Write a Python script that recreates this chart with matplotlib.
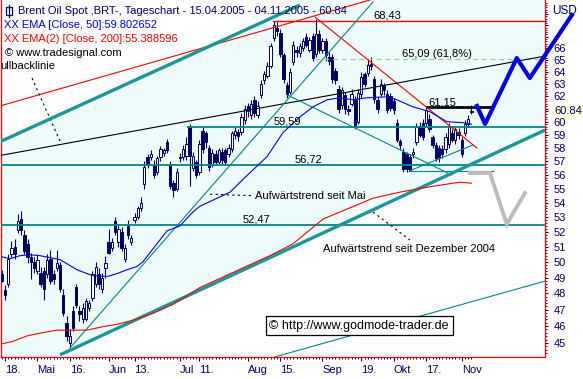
import numpy as np
import matplotlib
matplotlib.use('Agg')
import matplotlib.pyplot as plt
from matplotlib.patches import Rectangle
from matplotlib.lines import Line2D
from matplotlib.transforms import blended_transform_factory

plt.rcParams['font.family'] = ['Liberation Sans', 'DejaVu Sans']

W, H = 583, 379
navy = '#000066'
teal = '#008888'

# Brent Oil Spot, daily candles 15.04.2005 - 04.11.2005 (x = trading day number)
opens = [49.2, 48.2, 48.6, 50.5, 51.0, 52.1, 52.9, 51.8, 51.2, 50.3,
         50.0, 49.4, 49.3, 49.4, 49.2, 50.2, 49.2, 49.6, 49.8, 47.9,
         46.2, 45.0, 46.9, 48.4, 46.9, 46.4, 46.4, 47.1, 47.7, 48.6,
         49.2, 48.3, 49.6, 51.3, 50.9, 52.7, 51.3, 52.0, 50.2, 52.4,
         51.3, 52.8, 53.0, 53.6, 55.3, 57.3, 57.3, 56.7, 56.2, 57.3,
         57.6, 58.4, 56.7, 55.4, 55.0, 57.2, 57.3, 57.4, 59.7, 56.5,
         56.9, 56.2, 59.3, 59.1, 58.0, 56.8, 57.5, 56.9, 57.7, 57.8,
         57.5, 57.9, 59.0, 59.2, 59.2, 60.1, 61.2, 60.5, 61.7, 60.5,
         62.1, 63.3, 63.7, 64.5, 66.9, 67.8, 67.3, 65.4, 62.9, 62.4,
         64.8, 65.9, 65.6, 66.0, 67.0, 65.9, 67.1, 65.5, 67.2, 65.9,
         66.6, 65.3, 65.3, 64.1, 62.6, 61.3, 62.1, 61.0, 61.4, 61.7,
         60.0, 62.2, 63.8, 63.9, 64.7, 63.4, 61.7, 62.2, 62.9, 62.2,
         62.0, 61.6, 59.9, 58.5, 57.7, 57.5, 57.3, 57.5, 58.4, 59.7,
         59.9, 59.9, 60.2, 58.8, 58.2, 58.0, 57.9, 57.9, 58.3, 59.1,
         58.6, 59.2, 58.6, 59.1, 59.8, 60.75]
highs = [49.5, 48.5, 50.5, 51.4, 51.5, 53.2, 53.4, 52.1, 51.5, 50.6,
         50.3, 50.5, 49.7, 49.7, 50.5, 50.8, 49.5, 50.8, 50.0, 48.3,
         46.6, 45.8, 47.2, 48.6, 47.2, 47.4, 47.7, 47.6, 49.4, 50.0,
         49.6, 49.3, 50.4, 52.2, 51.6, 53.0, 52.5, 52.3, 51.2, 52.8,
         51.8, 53.3, 53.8, 54.4, 57.0, 57.5, 57.8, 57.1, 57.4, 58.1,
         58.0, 58.7, 57.0, 55.6, 56.5, 57.6, 58.2, 58.8, 59.8, 57.7,
         57.1, 58.6, 59.6, 59.3, 58.2, 57.9, 57.8, 58.0, 58.0, 58.0,
         58.3, 59.3, 59.6, 59.4, 60.7, 61.3, 61.5, 61.7, 62.0, 61.6,
         63.3, 64.1, 64.8, 66.5, 68.43, 68.3, 67.7, 65.6, 63.2, 64.3,
         66.6, 66.2, 66.5, 66.9, 67.3, 67.0, 67.3, 68.6, 67.6, 66.9,
         66.9, 65.7, 65.5, 64.3, 62.9, 62.8, 62.4, 61.3, 62.6, 62.0,
         62.6, 64.0, 64.0, 65.0, 65.3, 63.7, 62.0, 63.4, 63.1, 62.5,
         62.3, 61.9, 60.2, 58.7, 58.0, 57.7, 57.5, 58.0, 59.9, 60.0,
         60.2, 61.15, 60.6, 59.0, 58.4, 58.2, 58.2, 59.1, 59.9, 59.4,
         59.6, 59.5, 58.8, 60.1, 60.5, 61.3]
lows = [48.7, 47.6, 48.4, 50.3, 50.2, 51.9, 51.8, 50.5, 49.9, 48.9,
        49.3, 49.2, 48.4, 47.6, 49.0, 48.6, 48.6, 49.4, 48.1, 46.6,
        45.1, 44.7, 45.7, 47.1, 46.3, 46.2, 46.3, 46.9, 47.5, 48.4,
        48.3, 48.0, 49.0, 50.5, 50.7, 51.8, 51.0, 50.7, 50.0, 51.5,
        51.1, 52.6, 52.9, 53.4, 55.0, 56.5, 57.1, 55.8, 56.0, 57.0,
        57.4, 57.6, 55.0, 54.4, 54.8, 56.9, 57.1, 57.1, 55.2, 56.3,
        55.8, 56.0, 57.6, 58.0, 56.3, 56.6, 56.7, 56.75, 56.8, 56.72,
        57.3, 57.7, 58.7, 58.5, 59.0, 59.8, 60.4, 60.2, 60.4, 60.3,
        61.9, 63.0, 63.5, 64.3, 66.6, 67.1, 65.3, 63.1, 61.9, 62.2,
        64.6, 65.3, 65.3, 65.8, 66.1, 65.7, 64.9, 65.3, 65.6, 65.6,
        64.9, 64.6, 63.1, 63.0, 60.7, 61.0, 60.6, 60.5, 61.2, 59.45,
        59.8, 61.9, 62.8, 63.7, 64.2, 61.5, 60.7, 62.0, 62.1, 60.7,
        60.8, 60.6, 58.4, 57.8, 56.2, 56.2, 56.25, 57.2, 58.2, 58.8,
        58.6, 59.6, 59.2, 58.0, 57.0, 56.9, 57.2, 57.6, 58.0, 58.4,
        58.3, 58.7, 57.3, 58.9, 59.6, 60.6]
closes = [48.8, 47.9, 50.2, 50.9, 50.5, 52.7, 52.1, 50.7, 50.3, 50.0,
          49.6, 50.1, 48.6, 48.3, 50.1, 48.8, 48.9, 49.9, 48.3, 46.8,
          45.4, 45.4, 45.9, 47.3, 46.7, 47.1, 47.5, 47.4, 49.2, 49.7,
          48.6, 49.0, 49.9, 50.6, 51.3, 52.0, 52.2, 50.9, 50.9, 51.8,
          51.6, 53.0, 53.6, 54.0, 56.6, 56.7, 57.5, 56.0, 57.2, 57.9,
          57.8, 57.8, 55.2, 54.9, 56.2, 57.3, 57.9, 58.3, 57.4, 57.4,
          56.0, 58.3, 57.9, 58.4, 56.6, 57.6, 56.9, 57.8, 57.1, 56.9,
          58.0, 59.1, 59.3, 58.9, 60.4, 61.0, 60.8, 61.4, 60.7, 61.2,
          63.0, 63.8, 64.5, 66.2, 68.0, 67.5, 65.5, 63.4, 62.2, 64.0,
          66.3, 65.7, 66.2, 66.6, 66.3, 66.7, 65.2, 67.2, 65.9, 66.6,
          65.4, 64.9, 63.4, 63.3, 61.0, 62.5, 61.0, 60.8, 62.2, 59.6,
          62.3, 63.6, 63.0, 64.6, 64.5, 61.8, 61.0, 63.0, 62.5, 60.9,
          61.1, 60.9, 58.6, 58.2, 56.4, 56.4, 56.3, 57.7, 59.6, 59.0,
          58.8, 60.9, 59.4, 58.2, 57.2, 57.2, 57.5, 58.8, 59.6, 58.6,
          59.4, 59.0, 57.5, 59.8, 60.2, 60.84]

# indicator lines
ema50_x = [0, 2.5, 5.6, 8.7, 11.8, 14.9, 18.0, 20.1, 23.2, 26.3, 28.2, 32.5, 35.6,
           38.7, 41.7, 43.6, 46.7, 51.0, 55.0, 59.0, 61.2, 70.5, 74.5, 81.9, 86.8,
           92.1, 96.1, 100.4, 104.4, 108.4, 112.7, 118.9, 122.0, 126.9, 132.2,
           137.4, 142.4, 145]
ema50_y = [50.34, 50.21, 50.41, 50.47, 50.41, 50.28, 50.15, 49.89, 49.5, 49.25,
           49.12, 49.06, 49.25, 49.5, 49.7, 50.02, 50.86, 52.06, 52.4, 53.35, 53.76,
           54.75, 55.67, 57.34, 59.15, 60.38, 61.17, 61.73, 61.89, 61.73, 61.89,
           61.97, 61.73, 61.17, 60.78, 60.0, 59.92, 59.80]
ema200_x = [0, 3.5, 7.8, 11.8, 17.1, 26.3, 30.3, 35.6, 40.5, 46.7, 52.9, 61.2,
            76.6, 82.8, 89.9, 99.2, 106.6, 114.6, 122.9, 133.1, 141.4, 145]
ema200_y = [44.95, 45.1, 45.42, 45.58, 45.76, 45.76, 45.93, 46.11, 46.35, 46.77,
            47.32, 48.37, 49.82, 50.41, 51.19, 52.87, 53.56, 54.32, 54.75, 55.17,
            55.46, 55.39]

tick_pos = [1, 11, 21, 33, 41, 55, 61, 76, 86, 99, 111, 121, 131, 142]
tick_lab = ['18.', 'Mai', '16.', 'Jun', '13.', 'Jul', '11.', 'Aug', '15.', 'Sep',
            '19.', 'Okt', '17.', 'Nov']

x_min, x_max = -0.23, 167.7
y_min, y_max = 44.19, 70.28

# drawn analysis lines: (x0, x1), (p0, p1)
upper_channel = ([-0.5, 92.05], [58.46, 69.82])
lower_channel = ([17.98, 167.7], [44.31, 59.35])
red_upper = ([-0.5, 113.66], [61.24, 70.28])
red_down = ([96.7, 146.7], [68.74, 57.98])
black_line = ([-0.5, 167.7], [57.42, 65.34])
teal_mai = ([21.06, 114.6], [44.71, 70.1])
teal_down = ([88.3, 138.96], [62.1, 55.98])
teal_up_short = ([126.0, 145.4], [56.3, 58.2])
teal_flat_short = ([126.0, 151.6], [56.3, 56.3])
teal_bottom = ([84.4, 167.7], [44.2, 48.77])

ptr_pullback = ([9.33, 18.0], [63.5, 58.5])
ptr_mai = ([64.3, 77.2], [54.6, 54.5])
ptr_dez = ([114.6, 126.0], [53.35, 51.45])

# horizontal levels: price, start, end
teal_levels = [(59.59, 57.5, x_max), (56.72, x_min, x_max), (52.47, x_min, x_max)]
fib_level = (65.09, 96.7, x_max)
high_level = (68.43, 83.7, x_max)
resist_level = (61.15, 131.3, 150.7)

level_text = ['68,43', '65,09 (61,8%)', '61,15', '59,59', '56,72', '52,47']
level_tx = [114.6, 123.5, 131.6, 84.0, 90.5, 74.5]
level_ty = [68.43, 65.09, 61.15, 59.59, 56.72, 52.47]

# scenario arrows
blue_x = [146.7, 149.2, 159.0, 163.0, 176.0]
blue_y = [61.24, 59.82, 65.17, 63.5, 68.92]
gray_x = [144.5, 150.7, 155.9, 161.5]
gray_y = [56.13, 56.13, 52.52, 54.69]


def line_at(x, seg):
    (x0, x1), (p0, p1) = seg
    t = (x - x0) / (x1 - x0)
    return p0 * (p1 / p0) ** t


fig = plt.figure(figsize=(W / 100, H / 100), dpi=100)
ax = fig.add_axes([1 / W, 22 / H, 544 / W, 357 / H])
ax.set_yscale('log')
ax.set_xlim(x_min, x_max)
ax.set_ylim(y_min, y_max)

# channel background
fx = np.array([x_min, x_max])
ax.fill_between(fx, line_at(fx, lower_channel), line_at(fx, upper_channel),
                color='#EEFCFC', lw=0, zorder=0)

# candles
idx = np.arange(len(closes))
o = np.array(opens)
c = np.array(closes)
hi = np.array(highs)
lo = np.array(lows)
up = c >= o
ax.vlines(idx, lo, hi, color=navy, lw=0.8, zorder=3)
bot = np.minimum(o, c)
hgt = np.maximum(np.abs(c - o), 0.06)
ax.bar(idx[up], hgt[up], bottom=bot[up], width=0.72, color='white',
       edgecolor=navy, linewidth=0.7, zorder=3.5)
ax.bar(idx[~up], hgt[~up], bottom=bot[~up], width=0.72, color=navy,
       edgecolor=navy, linewidth=0.7, zorder=3.5)

# horizontal levels
for p, a, b in teal_levels:
    ax.plot([a, b], [p, p], color=teal, lw=1.3, zorder=4)
ax.plot([fib_level[1], fib_level[2]], [fib_level[0]] * 2, color='#99CC99', lw=0.9,
        dashes=(4, 3), zorder=4)
ax.plot([high_level[1], high_level[2]], [high_level[0]] * 2, color='red', lw=1.0, zorder=4)
ax.plot([resist_level[1], resist_level[2]], [resist_level[0]] * 2, color='black',
        lw=2.0, zorder=4)

# trend lines
for seg in (upper_channel, lower_channel):
    ax.plot(*seg, color='#189898', lw=2.4, zorder=4.2, solid_capstyle='butt')
for seg in (red_upper, red_down):
    ax.plot(*seg, color='red', lw=0.8, zorder=4)
ax.plot(*black_line, color='black', lw=0.8, zorder=4)
for seg in (teal_mai, teal_down, teal_up_short, teal_flat_short, teal_bottom):
    ax.plot(*seg, color=teal, lw=0.8, zorder=4)
for seg in (ptr_pullback, ptr_mai, ptr_dez):
    ax.plot(*seg, color='black', lw=0.8, dashes=(2, 3), zorder=4)

# moving averages
ax.plot(ema50_x, ema50_y, color='#0000FF', lw=0.8, zorder=4.5)
ax.plot(ema200_x, ema200_y, color='#FF0000', lw=0.8, zorder=4.5)

# scenarios
ax.plot(gray_x, gray_y, color='#BBBBBB', lw=2.8, zorder=5, solid_joinstyle='miter')
ax.plot(blue_x, blue_y, color='#0000EE', lw=3.0, zorder=5, clip_on=False)

# level labels
for s, tx, ty in zip(level_text, level_tx, level_ty):
    ax.text(tx, ty, s, fontsize=8, color='black', va='bottom', ha='left', zorder=6)
ax.text(78.2, 54.45, 'Aufwärtstrend seit Mai', fontsize=8, va='center', zorder=6)
ax.text(99.2, 50.86, 'Aufwärtstrend seit Dezember 2004', fontsize=8, va='center', zorder=6)

# axes styling
for side in ('left', 'bottom', 'right'):
    ax.spines[side].set_color('red')
    ax.spines[side].set_linewidth(0.9)
ax.spines['top'].set_visible(False)

ax.set_xticks(tick_pos, tick_lab)
ax.set_xticks(idx, minor=True)
for lab in ax.get_xticklabels():
    lab.set_ha('left')
ax.tick_params(axis='x', which='major', direction='out', length=3, width=0.8,
               color=navy, labelcolor=navy, labelsize=8, pad=3)
ax.tick_params(axis='x', which='minor', direction='out', length=1.5, width=0.7, color=navy)

ax.yaxis.tick_right()
ymajor = list(range(45, 70)) + [60.84]
ylabels = [str(v) if v <= 66 and v != 61 else '' for v in range(45, 70)] + ['']
ax.set_yticks(ymajor, ylabels)
ax.set_yticks(np.arange(44.4, 70.2, 0.2), minor=True)
ax.yaxis.set_minor_formatter(matplotlib.ticker.NullFormatter())
ax.tick_params(axis='y', which='major', direction='out', length=2.5, width=0.8,
               color=navy, labelcolor=navy, labelsize=8, pad=3.5)
ax.tick_params(axis='y', which='minor', direction='out', length=1.2, width=0.6, color=navy)

tr = blended_transform_factory(ax.transAxes, ax.transData)
ax.text(1 + 9 / 544, 60.84, '60.84', transform=tr, fontsize=8, color=navy,
        va='center', ha='left',
        bbox=dict(boxstyle='square,pad=0.15', fc='#FFFFE0', ec='none'), clip_on=False)


def fpos(x, y):
    return x / W, 1 - y / H


fig.text(*fpos(552, 11), 'USD', fontsize=8.5, color=navy, va='center', ha='left')

# header
fig.add_artist(Rectangle(fpos(6, 15), 6 / W, 8 / H, fill=False, ec=navy, lw=0.9,
                         transform=fig.transFigure))
fig.add_artist(Line2D([9 / W, 9 / W], [1 - 5 / H, 1 - 17 / H], color=navy, lw=0.9,
                      transform=fig.transFigure))
fig.text(*fpos(18, 11), 'Brent Oil Spot ,BRT-, Tageschart - 15.04.2005 - 04.11.2005 - 60.84',
         fontsize=8, color=navy, va='center', ha='left')
fig.text(*fpos(4, 25), 'XX EMA [Close, 50]:59.802652', fontsize=8, color='#0000FF',
         va='center', ha='left')
fig.text(*fpos(4, 39), 'XX EMA(2) [Close, 200]:55.388596', fontsize=8, color='#FF0000',
         va='center', ha='left')
fig.text(*fpos(5, 53), '© www.tradesignal.com', fontsize=8, color='black',
         va='center', ha='left')
fig.text(*fpos(0, 66), 'ullbacklinie', fontsize=8, color='black', va='center', ha='left')

fig.text(*fpos(359, 325.5), '© http://www.godmode-trader.de', fontsize=9, color='black',
         va='center', ha='center',
         bbox=dict(boxstyle='square,pad=0.3', fc='white', ec='black', lw=0.9))

fig.savefig('out.png', dpi=100)
